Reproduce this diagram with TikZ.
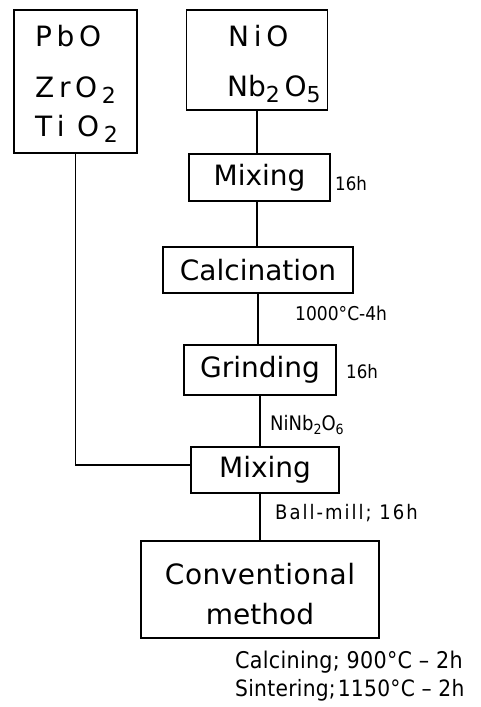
\documentclass[tikz,border=0pt]{standalone}
\usepackage{fontspec}
\setmainfont{DejaVu Sans}
\newfontfamily\labfont[FakeStretch=0.9]{DejaVu Sans}
\newcommand{\chemsub}[1]{\raisebox{-0.35ex}{\fontsize{22}{22}\selectfont #1}}
\newcommand{\lsub}[1]{\raisebox{-0.35ex}{\fontsize{14}{14}\selectfont #1}}
\begin{document}
\begin{tikzpicture}[x=1pt,y=-1pt,
  box/.style={draw,line width=1.4pt,inner sep=0pt},
  boxtext/.style={inner sep=0pt,font=\fontsize{28}{30}\selectfont},
  lab/.style={inner sep=0pt,anchor=west},
  conn/.style={line width=1.4pt}]
\useasboundingbox (0,0) rectangle (480,707);
% boxes
\node[box,minimum width=123pt,minimum height=143pt] (raw1) at (75.5,81.5) {};
\node[box,minimum width=141pt,minimum height=100pt] (raw2) at (257,60) {};
\node[box,minimum width=141pt,minimum height=47pt] (mix1) at (259.5,177.5) {};
\node[box,minimum width=190pt,minimum height=46pt] (calc) at (258,270) {};
\node[box,minimum width=152pt,minimum height=50pt] (grind) at (260,370) {};
\node[box,minimum width=148pt,minimum height=46pt] (mix2) at (265,470) {};
\node[box,minimum width=238pt,minimum height=97pt] (conv) at (260,589.5) {};
% box texts
\node[boxtext,anchor=west] (t1) at (35,36) {P\,b\,O};
\node[boxtext,anchor=west] (t2) at (35,90) {Z\,r\,O\,\chemsub{2}};
\node[boxtext,anchor=west] (t3) at (35,129) {T\,i\;\,O\,\chemsub{2}};
\node[boxtext,anchor=west] (t4) at (228,36) {N\,i\,O};
\node[boxtext,anchor=west] (t5) at (227,89) {Nb\chemsub{2}\,O\chemsub{5}};
\node[boxtext] (t6) at (mix1) {Mixing};
\node[boxtext] (t7) at (calc) {Calcination};
\node[boxtext] (t8) at (grind) {Grinding};
\node[boxtext] (t9) at (mix2) {Mixing};
\node[boxtext] (t10) at (260,574) {C\kern0.5pt o\kern0.5pt n\kern0.5pt v\kern0.5pt e\kern0.5pt n\kern0.5pt t\kern0.5pt i\kern0.5pt o\kern0.5pt n\kern0.5pt a\kern0.5pt l};
\node[boxtext] (t11) at (260,614) {method};
% labels
\node[lab,font=\labfont\fontsize{18.5}{18.5}\selectfont] (l1) at (335,184) {16h};
\node[lab,font=\labfont\fontsize{19}{19}\selectfont] (l2) at (295,313) {1000°C-4h};
\node[lab,font=\labfont\fontsize{18.5}{18.5}\selectfont] (l3) at (346,372) {16h};
\node[lab,font=\labfont\fontsize{20}{20}\selectfont] (l4) at (270,425) {NiNb\lsub{2}O\lsub{6}};
\node[lab,font=\labfont\fontsize{20}{20}\selectfont\addfontfeature{LetterSpace=10}] (l5) at (275,513) {Ball-mill; 16h};
\node[lab,font=\labfont\fontsize{23}{23}\selectfont\addfontfeature{LetterSpace=1.2}] (l6) at (235,662) {Calcining; 900°C – 2h};
\node[lab,font=\labfont\fontsize{22.5}{22.5}\selectfont\addfontfeature{LetterSpace=1.2}] (l7) at (235,690) {Sintering;\kern2pt1150°C – 2h};
% connectors
\draw[conn] (raw2.south) -- (raw2.south |- mix1.north);
\draw[conn] (mix1.south -| raw2.south) -- (raw2.south |- calc.north);
\draw[conn] (calc.south) -- (calc.south |- grind.north);
\draw[conn] (grind.south) -- (grind.south |- mix2.north);
\draw[conn] (mix2.south -| grind.south) -- (grind.south |- conv.north);
\draw[conn] (raw1.south) |- ([yshift=5pt]mix2.west);
\end{tikzpicture}
\end{document}
